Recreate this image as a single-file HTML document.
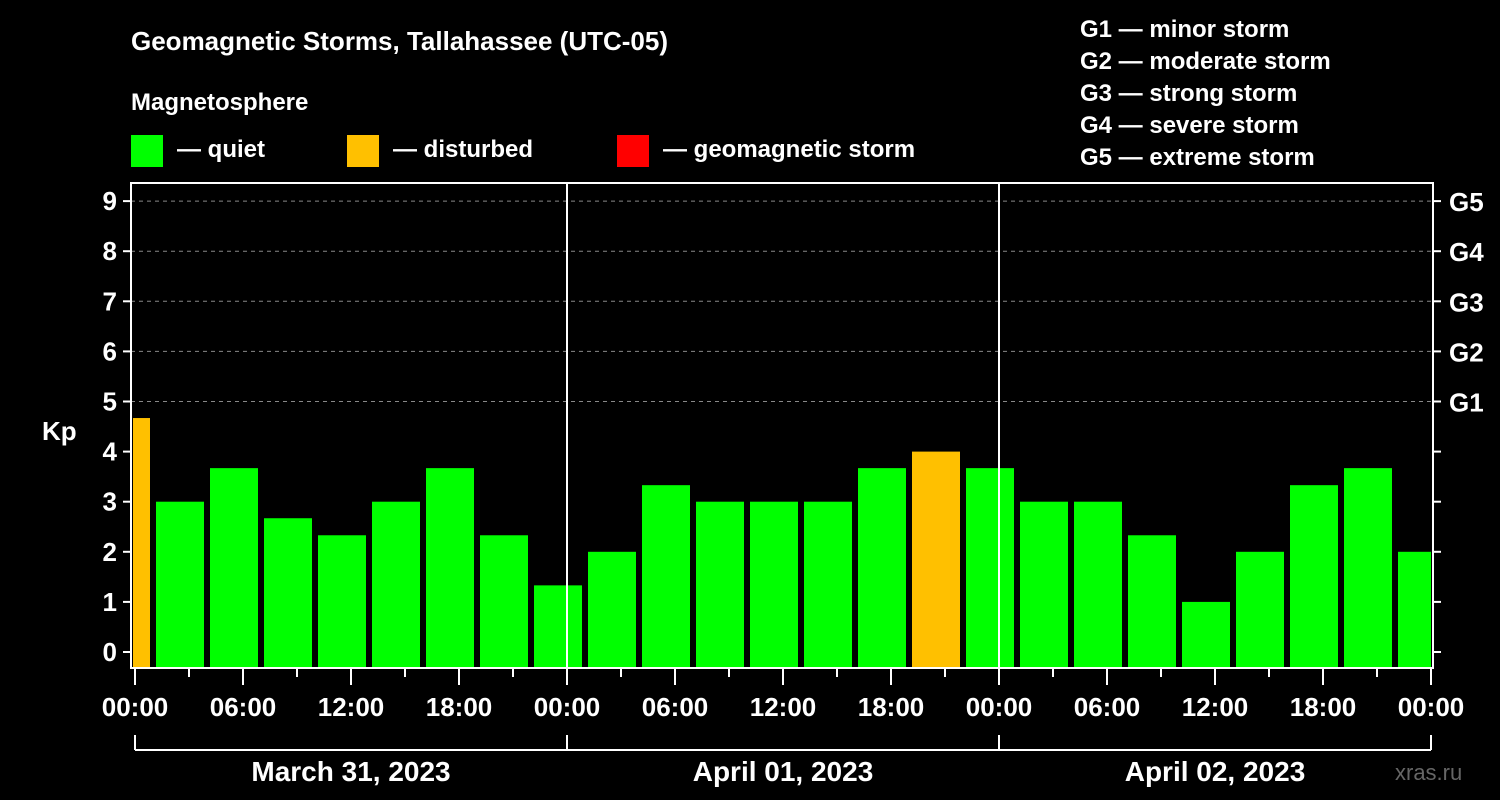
<!DOCTYPE html>
<html><head><meta charset="utf-8"><style>
html,body{margin:0;padding:0;background:#000;}
svg{display:block;font-family:"Liberation Sans",Arial,sans-serif;font-weight:bold;}
</style></head><body>
<svg width="1500" height="800" viewBox="0 0 1500 800">
<rect width="1500" height="800" fill="#000"/>
<text x="131" y="50" fill="#fff" font-size="26">Geomagnetic Storms, Tallahassee (UTC-05)</text>
<text x="131" y="110" fill="#fff" font-size="24">Magnetosphere</text>
<g><rect x="131" y="135" width="32" height="32" fill="#00ff00"/><text x="177" y="157" fill="#fff" font-size="24">— quiet</text></g>
<g><rect x="347" y="135" width="32" height="32" fill="#ffc000"/><text x="393" y="157" fill="#fff" font-size="24">— disturbed</text></g>
<g><rect x="617" y="135" width="32" height="32" fill="#ff0000"/><text x="663" y="157" fill="#fff" font-size="24">— geomagnetic storm</text></g>
<g fill="#fff" font-size="24">
<text x="1080" y="37">G1 — minor storm</text>
<text x="1080" y="69">G2 — moderate storm</text>
<text x="1080" y="101">G3 — strong storm</text>
<text x="1080" y="133">G4 — severe storm</text>
<text x="1080" y="165">G5 — extreme storm</text>
</g>
<text x="42" y="440" fill="#fff" font-size="26">Kp</text>
<text x="1395" y="780" fill="#666" font-size="22" font-weight="normal">xras.ru</text>
<g id="grid"></g>
<g id="bars"></g>
<g id="axes"></g>
</svg>
<script>
const kpValues=[4.67,3,3.67,2.67,2.33,3,3.67,2.33,1.33,2,3.33,3,3,3,3.67,4,3.67,3,3,2.33,1,2,3.33,3.67,2];
const binStartHours=[-2,1,4,7,10,13,16,19,22,25,28,31,34,37,40,43,46,49,52,55,58,61,64,67,70];
const yTicks=[0,1,2,3,4,5,6,7,8,9];
const gLabels=["G1","G2","G3","G4","G5"];
const gLevels=[5,6,7,8,9];
const xTickLabels=["00:00","06:00","12:00","18:00","00:00","06:00","12:00","18:00","00:00","06:00","12:00","18:00","00:00"];
const dayLabels=["March 31, 2023","April 01, 2023","April 02, 2023"];
const NS="http://www.w3.org/2000/svg";
const X0=135,PXH=18,Y0=652,PXK=50.1,L=131,R=1433,T=183,B=668;
const xs=h=>X0+h*PXH, ys=k=>Y0-k*PXK;
function mk(tag,attrs,parent,txt){const e=document.createElementNS(NS,tag);for(const k in attrs)e.setAttribute(k,attrs[k]);if(txt!==undefined)e.textContent=txt;parent.appendChild(e);return e;}
const grid=document.getElementById('grid'),bars=document.getElementById('bars'),axes=document.getElementById('axes');
gLevels.forEach(k=>{const l=mk('line',{x1:L,x2:R,y1:ys(k),y2:ys(k),stroke:'#888','stroke-dasharray':'4,4','stroke-width':1},grid);

});
kpValues.forEach((v,i)=>{let x1=xs(binStartHours[i])+3,x2=xs(binStartHours[i]+3)-3;x1=Math.max(x1,L+2);x2=Math.min(x2,R-2);
const c=v>=5?'#ff0000':(v>=4?'#ffc000':'#00ff00');
const r=mk('rect',{x:x1,y:ys(v),width:x2-x1,height:B-ys(v),fill:c},bars);

});
[1,2].forEach(d=>{const l=mk('line',{x1:xs(24*d),x2:xs(24*d),y1:T,y2:B,stroke:'#fff','stroke-width':2},axes);

});
const fr=mk('rect',{x:L,y:T,width:R-L,height:B-T,fill:'none',stroke:'#fff','stroke-width':2},axes);


yTicks.forEach(k=>{mk('line',{x1:L-8,x2:L,y1:ys(k),y2:ys(k),stroke:'#fff','stroke-width':2},axes);
mk('line',{x1:R,x2:R+8,y1:ys(k),y2:ys(k),stroke:'#fff','stroke-width':2},axes);
const t=mk('text',{x:L-14,y:ys(k)+9,fill:'#fff','font-size':26,'text-anchor':'end'},axes,String(k));

});
gLevels.forEach((k,i)=>{const t=mk('text',{x:1449,y:ys(k)+10,fill:'#fff','font-size':26},axes,gLabels[i]);

});
for(let h=0;h<=72;h+=3){const major=h%6===0;mk('line',{x1:xs(h),x2:xs(h),y1:B,y2:B+(major?17:9),stroke:'#fff','stroke-width':2},axes);}
xTickLabels.forEach((s,i)=>{const t=mk('text',{x:xs(i*6),y:716,fill:'#fff','font-size':26,'text-anchor':'middle'},axes,s);

});
mk('line',{x1:xs(0),x2:xs(72),y1:750,y2:750,stroke:'#fff','stroke-width':2},axes);
for(let d=0;d<=3;d++)mk('line',{x1:xs(24*d),x2:xs(24*d),y1:735,y2:750,stroke:'#fff','stroke-width':2},axes);
dayLabels.forEach((s,i)=>{const t=mk('text',{x:xs(24*i+12),y:781,fill:'#fff','font-size':28,'text-anchor':'middle'},axes,s);

});
</script>
</body></html>
